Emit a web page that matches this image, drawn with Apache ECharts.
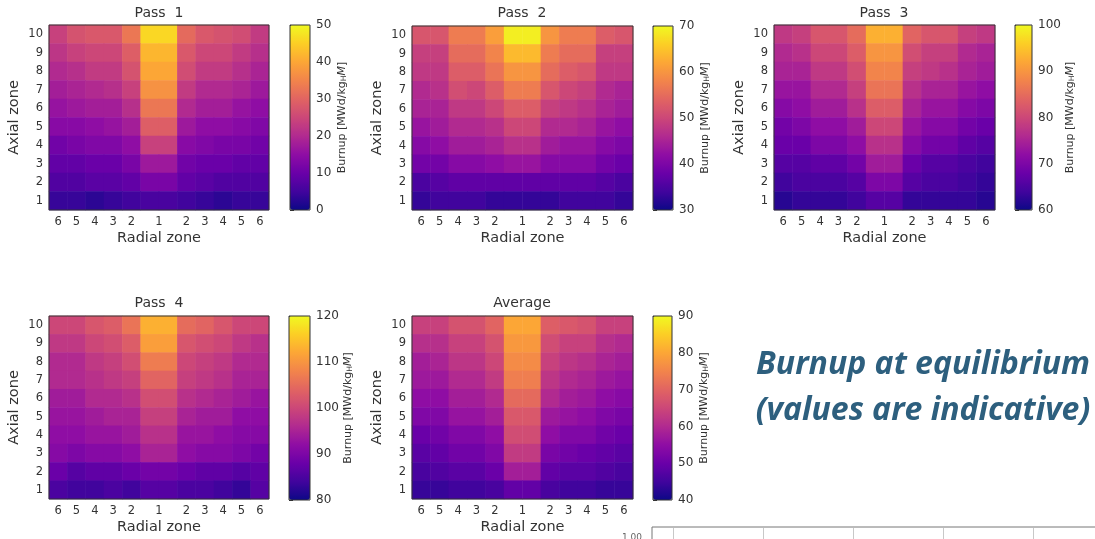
<!DOCTYPE html>
<html><head><meta charset="utf-8">
<script src="https://cdn.jsdelivr.net/npm/echarts@6/dist/echarts.min.js"></script>
<style>html,body{margin:0;padding:0;background:#fff}#c{width:1095px;height:539px}</style>
</head><body><div id="c"></div>
<script>
// ---------- data ----------
const radialLabels = ['6','5','4','3','2','1','2','3','4','5','6'];
const axialLabels = ['1','2','3','4','5','6','7','8','9','10'];
const panelTitles = ['Pass  1','Pass  2','Pass  3','Pass  4','Average'];
// each row: radial zones 6..2,1,2..6 ; rows listed from axial zone 10 (top) to 1 (bottom)
const pass1 = [
  [24,27,28,28,33,46,31,28,27,26,23],
  [22,24,25,25,29,42,28,25,25,23,21],
  [20,21,23,23,27,40,26,23,23,21,19],
  [18,19,20,21,24,37,23,20,20,19,17],
  [16,17,18,18,21,33,20,18,18,16,15],
  [14,14,15,16,18,29,17,15,15,14,13],
  [11,12,13,13,15,24,14,13,12,12,11],
  [9,9,10,10,12,17,11,10,10,9,9],
  [7,7,8,8,9,12,9,8,7,7,7],
  [4,4,3,4,5,6,5,4,3,4,4]
];
const pass2 = [
  [52,52,57,57,61,69,60,57,57,53,52],
  [49,49,55,55,58,64,57,55,55,49,49],
  [48,48,53,53,56,60,55,53,52,48,48],
  [46,47,51,50,53,57,52,50,49,46,45],
  [45,45,48,48,50,53,49,48,47,45,44],
  [43,44,46,46,47,50,46,46,45,43,42],
  [41,42,44,44,45,47,44,43,43,41,40],
  [39,39,41,41,42,43,41,41,41,39,38],
  [35,36,37,37,37,37,37,37,37,36,35],
  [33,34,34,34,33,33,33,34,34,34,33]
];
const pass3 = [
  [78,79,82,82,85,93,84,82,82,79,78],
  [76,77,80,80,83,90,81,79,79,76,75],
  [75,75,78,78,81,88,79,78,77,75,74],
  [73,73,76,76,79,86,77,75,75,73,72],
  [71,72,74,74,77,83,75,73,73,71,70],
  [69,70,72,72,74,80,73,71,71,69,68],
  [68,68,70,70,72,77,71,69,69,67,66],
  [66,66,67,67,69,74,68,66,66,65,64],
  [64,65,65,65,66,70,66,65,65,64,63],
  [62,63,63,63,64,66,63,63,63,63,62]
];
const pass4 = [
  [100,100,102,103,106,113,105,104,102,100,100],
  [98,98,100,101,103,111,102,101,100,98,97],
  [96,96,98,99,101,107,100,99,98,96,96],
  [96,96,97,98,99,104,99,98,97,95,95],
  [94,94,96,96,97,101,97,96,95,94,93],
  [93,93,94,95,95,99,95,94,94,92,92],
  [92,92,93,93,94,97,93,93,92,91,91],
  [91,90,91,91,92,95,92,91,91,90,89],
  [88,86,87,87,88,89,88,87,87,86,87],
  [85,84,84,85,84,86,85,85,84,83,86]
];
const average = [
  [64,64,67,67,70,80,69,68,67,64,64],
  [61,61,64,64,67,78,66,64,64,61,60],
  [58,59,62,62,65,76,64,62,61,59,58],
  [57,57,60,60,63,74,62,60,59,57,56],
  [55,55,58,58,60,71,60,58,57,55,54],
  [53,53,56,56,58,68,57,56,55,53,52],
  [50,51,53,53,55,66,55,53,53,51,50],
  [48,49,51,51,53,63,52,51,50,49,48],
  [46,47,48,48,50,58,49,48,48,47,46],
  [44,44,45,45,46,49,46,45,45,44,44]
];
const colorbarMin = [0,30,60,80,40];
const colorbarMax = [50,70,100,120,90];
const colorbarStep = 10;
const fragmentLabelValue = [1.00];

// ---------- layout / style ----------
const panels = [pass1,pass2,pass3,pass4,average];
const L = [
  {hm:[49,25,220,185], cb:[290,25,20,185], tx:159, ty:6},
  {hm:[412,26,221,184], cb:[653,26,20,184], tx:522, ty:6},
  {hm:[774,25,221,185], cb:[1015,25,17,185], tx:884, ty:6},
  {hm:[49,316,220,183], cb:[289,316,21,184], tx:159, ty:296},
  {hm:[412,316,221,183], cb:[653,316,19,184], tx:522, ty:296}
];
const plasma = ['#0d0887','#41049d','#6a00a8','#8f0da4','#b12a90','#cc4778','#e16462','#f2844b','#fca636','#fcce25','#f0f921'];
const FONT = 'DejaVu Sans';
const TXT = '#333';

// category axis: radial zone 1 spans two cells (centre of the core)
const xCats = radialLabels.slice(0,6).concat(radialLabels.slice(5));

const grid = [], xAxis = [], yAxis = [], series = [], visualMap = [], title = [];
panels.forEach((rows, p) => {
  const l = L[p];
  grid.push({left:l.hm[0], top:l.hm[1], width:l.hm[2], height:l.hm[3], show:true, borderColor:'#333', borderWidth:1, backgroundColor:'transparent', z:10, outerBoundsMode:'none'});
  xAxis.push({type:'category', gridIndex:p, data:xCats, position:'bottom',
    axisLine:{show:false}, axisTick:{show:false}, splitLine:{show:false},
    axisLabel:{interval:0, margin:6, color:TXT, fontFamily:FONT, fontSize:11.5,
      formatter:(v,i)=> i===5 ? '{c|'+v+'}' : (i===6 ? '' : v),
      rich:{c:{padding:[0,0,0,18], color:TXT, fontFamily:FONT, fontSize:11.5}}},
    name:'Radial zone', nameLocation:'middle', nameGap:21,
    nameTextStyle:{color:TXT, fontFamily:FONT, fontSize:14.5}});
  yAxis.push({type:'category', gridIndex:p, data:axialLabels,
    axisLine:{show:false}, axisTick:{show:false}, splitLine:{show:false},
    axisLabel:{margin:6, color:TXT, fontFamily:FONT, fontSize:11.5},
    name:'Axial zone', nameLocation:'middle', nameGap:27,
    nameTextStyle:{color:TXT, fontFamily:FONT, fontSize:14.5}});
  const data = [];
  rows.forEach((row, r) => {
    for (let j = 0; j < 12; j++) {
      const src = j <= 5 ? j : j - 1;
      data.push([j, rows.length - 1 - r, row[src]]);
    }
  });
  series.push({type:'heatmap', xAxisIndex:p, yAxisIndex:p, data:data,
    itemStyle:{borderWidth:0}, emphasis:{disabled:true}, progressive:0});
  visualMap.push({type:'continuous', seriesIndex:p, min:colorbarMin[p], max:colorbarMax[p],
    left:l.cb[0], top:l.cb[1], itemWidth:l.cb[2], itemHeight:l.cb[3],
    calculable:false, hoverLink:false, padding:0, text:null,
    inRange:{color:plasma}});
  title.push({text:panelTitles[p], left:l.tx, top:l.ty, textAlign:'center', padding:0,
    textStyle:{color:TXT, fontFamily:FONT, fontSize:14, fontWeight:'normal'}});
});
// colorbar tick axes
panels.forEach((rows, p) => {
  const l = L[p]; const gi = 5 + p;
  grid.push({left:l.cb[0], top:l.cb[1], width:l.cb[2], height:l.cb[3], show:true, borderColor:'#333', borderWidth:1, backgroundColor:'transparent', z:10, outerBoundsMode:'none'});
  xAxis.push({type:'value', gridIndex:gi, show:false, min:0, max:1});
  yAxis.push({type:'value', gridIndex:gi, position:'right', min:colorbarMin[p], max:colorbarMax[p], interval:colorbarStep,
    axisLine:{show:false}, splitLine:{show:false},
    axisTick:{show:true, length:4, lineStyle:{color:'#333'}},
    axisLabel:{margin:6, color:TXT, fontFamily:FONT, fontSize:12},
    name:'Burnup [MWd/kg{s|H}{i|M}]', nameLocation:'middle', nameGap:26,
    nameTextStyle:{color:TXT, fontFamily:FONT, fontSize:11,
      rich:{s:{fontSize:7.5, fontFamily:FONT, color:TXT, verticalAlign:'bottom', padding:[4,0,0,0]}, i:{fontSize:11, fontStyle:'italic', fontFamily:FONT, color:TXT}}}});
});
// clipped fragment of a following chart (bottom right): frame + y label
grid.push({left:652, top:527, width:500, height:100, show:true, borderColor:'#777', borderWidth:1, backgroundColor:'transparent', outerBoundsMode:'none'});
xAxis.push({type:'value', gridIndex:10, show:false, min:0, max:1});
yAxis.push({type:'value', gridIndex:10, min:0, max:1.12, interval:0.25, axisLine:{show:false}, axisTick:{show:false}, splitLine:{show:false},
  axisLabel:{color:'#666', fontFamily:FONT, fontSize:9, margin:10, formatter:v=> fragmentLabelValue.includes(v) ? v.toFixed(2) : ''}});
// its vertical grid lines
grid.push({left:673, top:528, width:480, height:100, show:false, outerBoundsMode:'none'});
xAxis.push({type:'value', gridIndex:11, min:0, max:480, interval:90, axisLine:{show:false}, axisTick:{show:false}, axisLabel:{show:false},
  splitLine:{show:true, lineStyle:{color:'#c8c8c8'}}});
yAxis.push({type:'value', gridIndex:11, show:false, min:0, max:1});

const chart = echarts.init(document.getElementById('c'), null, {renderer:'canvas'});
chart.setOption({
  animation:false, backgroundColor:'#fff',
  title, grid, xAxis, yAxis, series, visualMap,
  graphic:[
    {type:'text', x:923, y:349, style:{text:'Burnup at equilibrium', fill:'#2d5f7e', font:'italic bold 32px "Open Sans"', textAlign:'center', textVerticalAlign:'top'}},
    {type:'text', x:923, y:395, style:{text:'(values are indicative)', fill:'#2d5f7e', font:'italic bold 32px "Open Sans"', textAlign:'center', textVerticalAlign:'top'}}
  ]
});
</script></body></html>
